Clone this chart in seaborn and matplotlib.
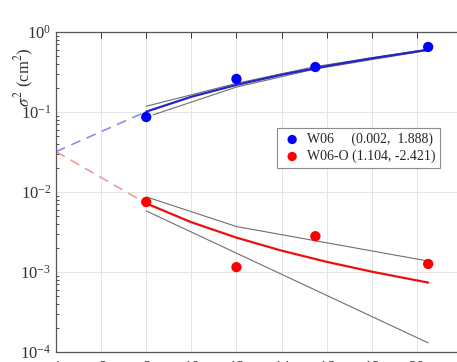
import matplotlib
matplotlib.use("Agg")
import matplotlib.pyplot as plt
import seaborn as sns
import pandas as pd
import numpy as np
from matplotlib.ticker import LogLocator, NullFormatter, FixedLocator

# ---- data ----
obs_x = [8, 12, 15.5, 20.5]
w06_obs = [0.0866, 0.259, 0.365, 0.65]
w06o_obs = [0.0075, 0.00115, 0.0028, 0.00126]

fit_x = [8, 10, 12, 14, 16, 18, 20.5]
w06_fit = [0.101, 0.155, 0.218, 0.292, 0.375, 0.469, 0.599]
w06o_fit = [0.0072, 0.00419, 0.00269, 0.00185, 0.00134, 0.00101, 0.000737]

w06_up_x = [8, 12, 15.5, 20.5]
w06_up = [0.118, 0.228, 0.37, 0.61]
w06_lo_x = [8.3, 12, 15.5, 20.5]
w06_lo = [0.092, 0.205, 0.345, 0.59]

w06o_up_x = [8, 12, 20.5]
w06o_up = [0.0087, 0.0037, 0.00137]
w06o_lo_x = [8, 20.5]
w06o_lo = [0.0058, 0.00013]

ext_x = [4, 8]
w06_ext = [0.032, 0.101]
w06o_ext = [0.032, 0.0072]

xticks = [4, 6, 8, 10, 12, 14, 16, 18, 20]
labels = ["W06     (0.002,  1.888)", "W06-O (1.104, -2.421)"]

# ---- style ----
sns.set_theme(style="white")
plt.rcParams['font.family'] = ['Liberation Serif', 'DejaVu Serif']
plt.rcParams['mathtext.fontset'] = 'stix'

fig = plt.figure(figsize=(4.57, 3.62), dpi=100)
ax = fig.add_axes([56/457, 10/362, 406/457, 320/362])

gray = '#6e6e6e'
sns.lineplot(x=ext_x, y=w06_ext, ax=ax, color='#8c8cf0', lw=1.2, linestyle=(0, (6, 4)), sort=False, estimator=None)
sns.lineplot(x=ext_x, y=w06o_ext, ax=ax, color='#f09a9a', lw=1.2, linestyle=(0, (6, 4)), sort=False, estimator=None)

sns.lineplot(x=w06_up_x, y=w06_up, ax=ax, color=gray, lw=0.8, sort=False, estimator=None)
sns.lineplot(x=w06_lo_x, y=w06_lo, ax=ax, color=gray, lw=0.8, sort=False, estimator=None)
sns.lineplot(x=w06o_up_x, y=w06o_up, ax=ax, color=gray, lw=0.8, sort=False, estimator=None)
sns.lineplot(x=w06o_lo_x, y=w06o_lo, ax=ax, color=gray, lw=0.8, sort=False, estimator=None)

sns.lineplot(x=fit_x, y=w06_fit, ax=ax, color='#2424c8', lw=1.6, sort=False, estimator=None)
sns.lineplot(x=fit_x, y=w06o_fit, ax=ax, color='#e81010', lw=1.6, sort=False, estimator=None)

sns.scatterplot(x=obs_x, y=w06_obs, ax=ax, color='#0000ff', s=55, edgecolor='none', label=labels[0], zorder=5)
sns.scatterplot(x=obs_x, y=w06o_obs, ax=ax, color='#ff0000', s=55, edgecolor='none', label=labels[1], zorder=5)

ax.set_yscale('log')
ax.set_ylim(1e-4, 1e0)
ax.set_xlim(4, 22)
ax.xaxis.set_major_locator(FixedLocator(xticks))
ax.set_xticklabels([str(t) for t in xticks])
ax.yaxis.set_major_locator(LogLocator(base=10, numticks=10))
ax.yaxis.set_minor_locator(LogLocator(base=10, subs=np.arange(2, 10), numticks=20))
ax.yaxis.set_minor_formatter(NullFormatter())

ax.grid(True, which='major', color='#e4e4e4', lw=0.7)
ax.tick_params(which='both', direction='in', top=True, right=False, labelsize=12, colors='#333333')
ax.tick_params(axis='x', pad=6)
ax.tick_params(which='major', length=4, width=0.7)
ax.tick_params(which='minor', length=2.5, width=0.6, left=True)
for sp in ['left', 'bottom', 'top']:
    ax.spines[sp].set_color('#555555')
    ax.spines[sp].set_linewidth(0.9)
ax.spines['right'].set_visible(False)

ax.set_xlabel('')
ax.set_ylabel(r'$\sigma^2$ (cm$^2$)', fontsize=12, color='#333333')
ax.yaxis.set_label_coords(-0.05, 0.86)

leg = ax.legend(loc='upper left', bbox_to_anchor=(0.544, 0.70), fontsize=10,
                frameon=True, fancybox=False, edgecolor='#8c8c8c', framealpha=1,
                handletextpad=0.3, borderpad=0.35, labelspacing=0.25, handlelength=1.5,
                borderaxespad=0, markerscale=0.9)
leg.get_frame().set_linewidth(0.8)

fig.savefig('out.png', dpi=100)
